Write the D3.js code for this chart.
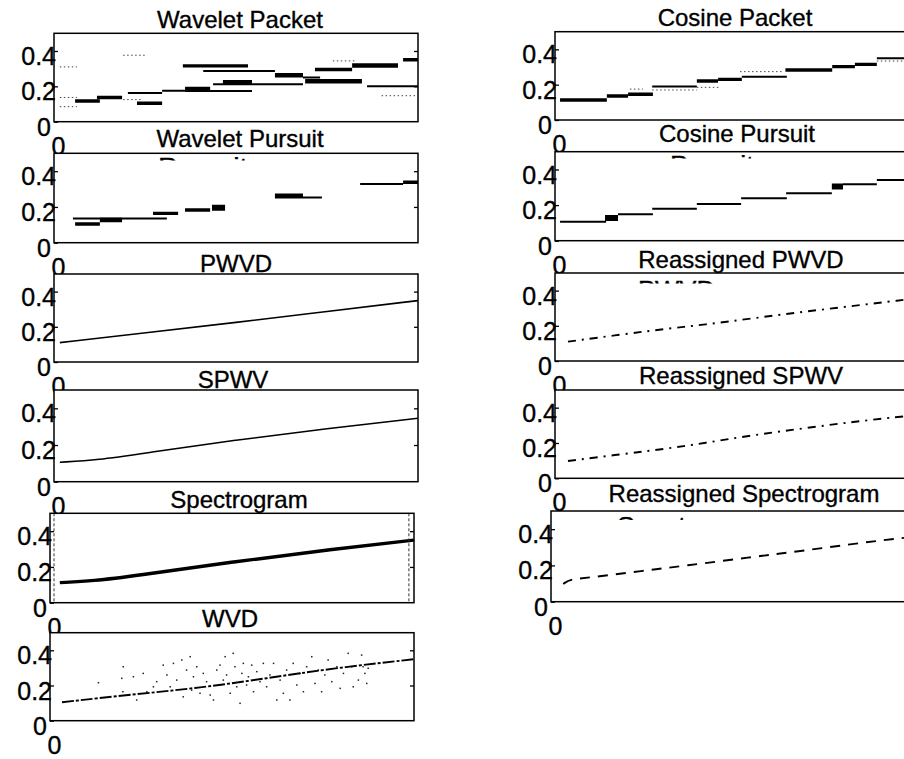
<!DOCTYPE html>
<html><head><meta charset="utf-8">
<script src="https://cdn.jsdelivr.net/npm/d3@7"></script>
<style>
body{margin:0;background:#fff}
svg{display:block}
text{font-family:"Liberation Sans",Arial,Helvetica,sans-serif;fill:#000;stroke:#000;stroke-width:0.35px}
</style>
</head><body>
<svg id="chart" width="904" height="759"></svg>
<script>
// ---------- data ----------
const yTickValues = [0, 0.2, 0.4];
const yTickLabels = ["0", "0.2", "0.4"];
const xTickValues = [0];
const xTickLabels = ["0"];
const yDomain = [0, 0.5];
const xDomain = [0, 1];

// atoms: [tStart, tEnd, frequency, energy level 1..5]
const waveletPacketAtoms = [
  [0.058, 0.126, 0.117, 3], [0.118, 0.187, 0.137, 3],
  [0.016, 0.063, 0.137, 1], [0.016, 0.063, 0.085, 1], [0.016, 0.063, 0.310, 1],
  [0.228, 0.297, 0.104, 3], [0.203, 0.297, 0.163, 2], [0.190, 0.245, 0.125, 1],
  [0.297, 0.360, 0.175, 2], [0.360, 0.429, 0.185, 4], [0.360, 0.544, 0.173, 2],
  [0.437, 0.684, 0.212, 2], [0.464, 0.544, 0.224, 4], [0.354, 0.533, 0.316, 3],
  [0.410, 0.607, 0.287, 2], [0.607, 0.684, 0.263, 4], [0.684, 0.731, 0.250, 2],
  [0.690, 0.846, 0.229, 4], [0.717, 0.819, 0.295, 3], [0.819, 0.945, 0.318, 4],
  [0.860, 1.000, 0.200, 2], [0.959, 1.000, 0.350, 3], [0.766, 0.832, 0.344, 1],
  [0.900, 0.992, 0.147, 1], [0.190, 0.255, 0.376, 1]
];
const waveletPursuitAtoms = [
  [0.058, 0.126, 0.105, 3], [0.052, 0.310, 0.136, 2], [0.126, 0.187, 0.127, 4],
  [0.272, 0.341, 0.164, 3], [0.360, 0.429, 0.183, 3], [0.434, 0.470, 0.196, 5],
  [0.607, 0.684, 0.263, 4], [0.607, 0.736, 0.253, 2], [0.841, 0.959, 0.328, 2],
  [0.959, 1.000, 0.338, 3]
];
const cosinePacketAtoms = [
  [0.014, 0.144, 0.113, 3], [0.144, 0.203, 0.136, 3], [0.203, 0.272, 0.146, 3],
  [0.270, 0.394, 0.189, 2], [0.270, 0.394, 0.170, 1], [0.394, 0.453, 0.221, 3],
  [0.453, 0.519, 0.230, 3], [0.519, 0.644, 0.245, 2], [0.514, 0.633, 0.274, 1],
  [0.640, 0.770, 0.283, 3], [0.770, 0.833, 0.302, 3], [0.833, 0.894, 0.315, 3],
  [0.894, 1.000, 0.349, 2], [0.894, 1.000, 0.334, 1], [0.208, 0.244, 0.175, 1],
  [0.394, 0.456, 0.185, 1]
];
const cosinePursuitAtoms = [
  [0.014, 0.142, 0.107, 2], [0.139, 0.175, 0.128, 5], [0.175, 0.272, 0.148, 2],
  [0.270, 0.394, 0.180, 2], [0.394, 0.517, 0.206, 2], [0.517, 0.644, 0.238, 2],
  [0.642, 0.769, 0.266, 2], [0.769, 0.800, 0.305, 5], [0.800, 0.894, 0.317, 2],
  [0.894, 1.000, 0.341, 2]
];

// curves: [t, frequency]
const pwvdCurve = [[0.016,0.110],[0.250,0.165],[0.500,0.225],[0.750,0.287],[1.000,0.349]];
const spwvCurve = [[0.016,0.106],[0.120,0.118],[0.250,0.156],[0.500,0.228],[0.750,0.289],[1.000,0.346]];
const spectrogramCurve = [[0.027,0.112],[0.120,0.122],[0.229,0.149],[0.503,0.229],[0.778,0.299],[1.000,0.350]];
const spectrogramEdgeT = [0.011, 0.986];
const wvdCurve = [[0.033,0.105],[0.229,0.150],[0.412,0.186],[0.595,0.241],[0.778,0.298],[0.998,0.349]];
const wvdInterferenceT = [0.133,0.201,0.197,0.200,0.229,0.238,0.256,0.266,0.284,0.293,0.311,0.321,0.330,0.339,0.348,0.362,0.366,0.375,0.385,0.389,0.394,0.403,0.412,0.421,0.430,0.440,0.449,0.458,0.467,0.476,0.481,0.485,0.495,0.503,0.508,0.513,0.522,0.527,0.531,0.540,0.545,0.554,0.559,0.568,0.577,0.586,0.595,0.604,0.614,0.623,0.632,0.641,0.650,0.659,0.668,0.678,0.687,0.696,0.705,0.719,0.728,0.737,0.746,0.755,0.764,0.774,0.788,0.797,0.806,0.819,0.829,0.833,0.847,0.856,0.865,0.870,0.874,0.860];
const wvdInterferenceF = [0.216,0.307,0.241,0.165,0.250,0.118,0.269,0.165,0.193,0.222,0.316,0.260,0.193,0.326,0.231,0.345,0.136,0.288,0.364,0.174,0.250,0.307,0.156,0.269,0.222,0.146,0.118,0.288,0.316,0.231,0.364,0.260,0.156,0.383,0.307,0.193,0.099,0.269,0.326,0.203,0.250,0.316,0.165,0.279,0.222,0.326,0.193,0.260,0.326,0.118,0.231,0.156,0.288,0.118,0.326,0.203,0.269,0.165,0.307,0.364,0.212,0.288,0.165,0.260,0.345,0.222,0.307,0.184,0.269,0.383,0.307,0.193,0.231,0.373,0.269,0.212,0.298,0.307];
const reassignedPwvdCurve = [[0.036,0.110],[0.190,0.152],[0.319,0.186],[0.410,0.205],[0.551,0.243],[0.690,0.280],[0.829,0.313],[0.967,0.347],[1.000,0.355]];
const reassignedSpwvCurve = [[0.036,0.098],[0.190,0.138],[0.319,0.170],[0.410,0.198],[0.551,0.245],[0.690,0.283],[0.829,0.320],[0.960,0.349],[1.000,0.357]];
const reassignedSpecCurve = [[0.034,0.098],[0.053,0.125],[0.108,0.132],[0.256,0.171],[0.368,0.197],[0.553,0.245],[0.701,0.281],[0.877,0.329],[0.969,0.349],[1.000,0.356]];

// ---------- layout ----------
const panels = [
  {title:"Wavelet Packet", x0:54, x1:418, y0:33.3, y1:121.7, gap:5, tdx:4, kind:"atoms", data:waveletPacketAtoms},
  {title:"Wavelet Pursuit", x0:54, x1:418, y0:153.3, y1:242.7, gap:6.5, tdx:4, kind:"atoms", data:waveletPursuitAtoms,
    frag:{text:"Pursuit", x:158, top:157.5, sx:1.2}},
  {title:"PWVD", x0:54, x1:418, y0:274, y1:362, gap:2.5, kind:"curve", data:pwvdCurve, sw:1.6},
  {title:"SPWV", x0:54, x1:418, y0:390, y1:481.7, gap:2, tdx:-3, kind:"curve", data:spwvCurve, sw:1.6},
  {title:"Spectrogram", x0:50, x1:414, y0:513.3, y1:602.7, gap:5, tdx:7, kind:"curve", data:spectrogramCurve, sw:3.4, edges:spectrogramEdgeT},
  {title:"WVD", x0:50, x1:414, y0:632.7, y1:720.7, gap:6, tdx:-2, kind:"wvd", data:wvdCurve, sw:1.9, dash:"12,2,3,2"},
  {title:"Cosine Packet", x0:555, x1:915, y0:31.7, y1:120, gap:5.5, kind:"atoms", data:cosinePacketAtoms},
  {title:"Cosine Pursuit", x0:555, x1:915, y0:151.7, y1:240.7, gap:10, tdx:2, kind:"atoms", data:cosinePursuitAtoms,
    frag:{text:"Pursuit", x:670, top:155.5, sx:1.12}},
  {title:"Reassigned PWVD", x0:555, x1:915, y0:273, y1:361, gap:4.7, tdx:6, kind:"curve", data:reassignedPwvdCurve, sw:1.9, dash:"8,6,2,6",
    frag:{text:"PWVD", x:638, top:280.5, sx:1.07}},
  {title:"Reassigned SPWV", x0:555, x1:915, y0:390, y1:478.3, gap:5.7, tdx:6, kind:"curve", data:reassignedSpwvCurve, sw:1.9, dash:"8,6,2,6"},
  {title:"Reassigned Spectrogram", x0:551, x1:911, y0:511, y1:601.7, gap:9.3, tdx:13, kind:"curve", data:reassignedSpecCurve, sw:1.9, dash:"10,8",
    frag:{text:"Spectrogram", x:617, top:517, sx:1.12}}
];
const TITLE_SIZE = 24;
const TICK_SIZE = 25;

const energyWidth = d3.scaleOrdinal().domain([1,2,3,4,5]).range([1, 2, 3.4, 4.4, 6]);

const svg = d3.select("#chart");
const defs = svg.append("defs");

panels.forEach((p, i) => {
  const x = d3.scaleLinear().domain(xDomain).range([p.x0, p.x1]);
  const y = d3.scaleLinear().domain(yDomain).range([p.y1, p.y0]);
  const g = svg.append("g");
  const w = p.x1 - p.x0, h = p.y1 - p.y0;

  g.append("rect").attr("x", p.x0).attr("y", p.y0).attr("width", w).attr("height", h).attr("fill", "#fff");

  // title
  g.append("text")
    .attr("text-anchor", "middle")
    .attr("font-size", TITLE_SIZE)
    .attr("x", (p.x0 + p.x1) / 2 + (p.tdx || 0)).attr("y", p.y0 - p.gap)
    .text(p.title);

  const cid = "clip" + i;
  defs.append("clipPath").attr("id", cid).append("rect")
    .attr("x", p.x0).attr("y", p.y0).attr("width", w).attr("height", h);
  const plot = g.append("g").attr("clip-path", `url(#${cid})`);

  // fragment of an obscured second title line
  if (p.frag) {
    const fid = "frag" + i;
    defs.append("clipPath").attr("id", fid).append("rect")
      .attr("x", p.x0).attr("y", p.frag.top - 0.5).attr("width", w).attr("height", 3.5);
    g.append("g").attr("clip-path", `url(#${fid})`).append("text")
      .attr("font-size", TITLE_SIZE)
      .attr("transform", `translate(${p.frag.x},${p.frag.top + TITLE_SIZE * 0.716}) scale(${p.frag.sx},1)`)
      .text(p.frag.text);
  }

  if (p.kind === "atoms") {
    plot.selectAll("line.atom").data(p.data).join("line")
      .attr("class", "atom")
      .attr("x1", d => x(d[0])).attr("x2", d => x(d[1]))
      .attr("y1", d => y(d[2])).attr("y2", d => y(d[2]))
      .attr("stroke", d => d[3] === 1 ? "#444" : "#000")
      .attr("stroke-width", d => energyWidth(d[3]))
      .attr("stroke-dasharray", d => d[3] === 1 ? "1.5,2.5" : null);
  } else {
    if (p.kind === "wvd") {
      plot.selectAll("rect.dot").data(wvdInterferenceT).join("rect")
        .attr("class", "dot")
        .attr("x", (d, k) => x(d) - 0.7).attr("y", (d, k) => y(wvdInterferenceF[k]) - 0.7)
        .attr("width", 1.5).attr("height", 1.5).attr("fill", "#222");
    }
    const line = d3.line().x(d => x(d[0])).y(d => y(d[1])).curve(d3.curveBasis);
    plot.append("path").datum(p.data)
      .attr("d", line).attr("fill", "none").attr("stroke", "#000")
      .attr("stroke-width", p.sw)
      .attr("stroke-dasharray", p.dash || null);
    if (p.edges) {
      plot.selectAll("line.edge").data(p.edges).join("line")
        .attr("class", "edge")
        .attr("x1", d => x(d)).attr("x2", d => x(d))
        .attr("y1", p.y0).attr("y2", p.y1)
        .attr("stroke", "#333").attr("stroke-width", 1).attr("stroke-dasharray", "3,2");
    }
  }

  // left axis (inward ticks)
  const ax = g.append("g").attr("transform", `translate(${p.x0},0)`)
    .call(d3.axisLeft(y).tickValues(yTickValues).tickFormat((d, k) => yTickLabels[k])
      .tickSizeInner(-4).tickSizeOuter(0).tickPadding(0));
  ax.select(".domain").remove();
  ax.selectAll("line").attr("stroke", "#000").attr("stroke-width", 1.3);
  ax.selectAll("text")
    .attr("font-size", TICK_SIZE).attr("font-family", null)
    .attr("x", d => d === 0 ? -3 : 2).attr("dy", null).attr("y", 13.5).attr("text-anchor", "end");

  // right axis (inward ticks, no labels)
  const ar = g.append("g").attr("transform", `translate(${p.x1},0)`)
    .call(d3.axisRight(y).tickValues(yTickValues.filter(v => v > 0)).tickFormat("")
      .tickSizeInner(-4).tickSizeOuter(0));
  ar.select(".domain").remove();
  ar.selectAll("line").attr("stroke", "#000").attr("stroke-width", 1.3);

  // bottom axis label
  const ab = g.append("g").attr("transform", `translate(0,${p.y1})`)
    .call(d3.axisBottom(x).tickValues(xTickValues).tickFormat((d, k) => xTickLabels[k])
      .tickSize(0).tickPadding(0));
  ab.select(".domain").remove();
  ab.selectAll("text")
    .attr("font-size", TICK_SIZE).attr("font-family", null)
    .attr("x", 4).attr("y", 33).attr("dy", null).attr("text-anchor", "middle");

  // frame
  g.append("rect").attr("x", p.x0).attr("y", p.y0).attr("width", w).attr("height", h)
    .attr("fill", "none").attr("stroke", "#000").attr("stroke-width", 1.5);
});
</script>
</body></html>
